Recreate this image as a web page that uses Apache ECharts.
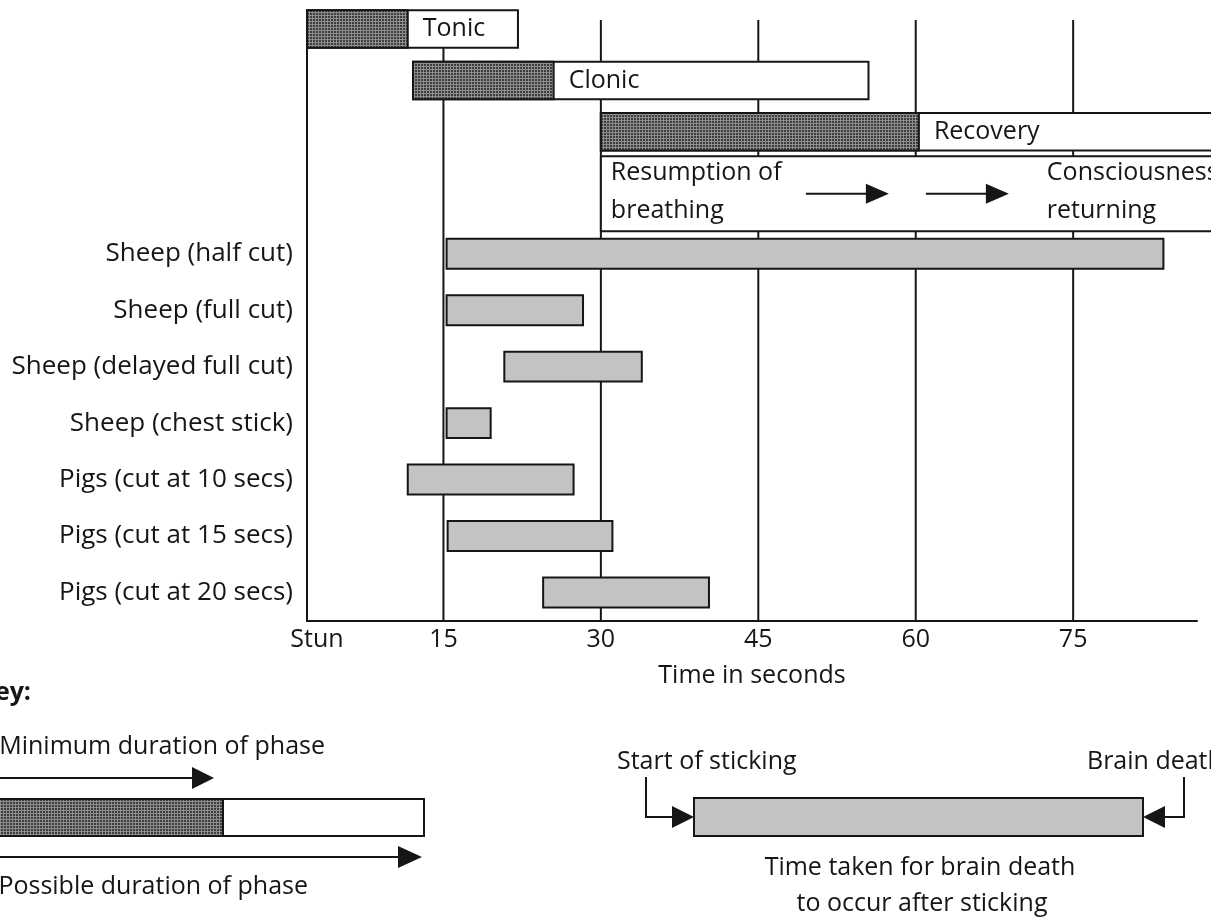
<!DOCTYPE html>
<html><head><meta charset="utf-8">
<script src="https://cdn.jsdelivr.net/npm/echarts@6/dist/echarts.min.js"></script>
<style>html,body{margin:0;padding:0;background:#fff}#c{width:1211px;height:920px}</style>
</head><body><div id="c"></div>
<script>
// ---------- data ----------
const tickValues = [2, 15, 30, 45, 60, 75];
const tickLabels = ['Stun', '15', '30', '45', '60', '75'];
const gridLineValues = [15, 30, 45, 60, 75];
const axisTitle = 'Time in seconds';

const phaseNames = ['Tonic', 'Clonic', 'Recovery'];
const phaseStart = [2, 12.1, 30];
const phaseMinEnd = [11.6, 25.5, 60.3];
const phaseMaxEnd = [22.1, 55.5, 92];

const noteStart = [30];
const noteEnd = [92];
const noteLeftLines = ['Resumption of', 'breathing'];
const noteRightLines = ['Consciousness', 'returning'];

const animals = ['Sheep (half cut)', 'Sheep (full cut)', 'Sheep (delayed full cut)', 'Sheep (chest stick)',
  'Pigs (cut at 10 secs)', 'Pigs (cut at 15 secs)', 'Pigs (cut at 20 secs)'];
const deathStart = [15.3, 15.3, 20.8, 15.3, 11.6, 15.4, 24.5];
const deathEnd = [83.6, 28.3, 33.9, 19.5, 27.4, 31.1, 40.3];

const keyTitle = 'Key:';
const keyMin = 'Minimum duration of phase';
const keyMax = 'Possible duration of phase';
const keyStart = 'Start of sticking';
const keyEnd = 'Brain death';
const keyCaption = ['Time taken for brain death', 'to occur after sticking'];

// ---------- style ----------
const INK = '#161616';
const FF = '"Open Sans", sans-serif';
const FS = 25;
const FONT = 'normal ' + FS + 'px "Open Sans", sans-serif';
const GRAY = '#c3c3c3';

const tile = document.createElement('canvas');
tile.width = 3; tile.height = 3;
const tctx = tile.getContext('2d');
tctx.fillStyle = '#3e3e3e'; tctx.fillRect(0, 0, 3, 3);
tctx.fillStyle = '#8e8e8e'; tctx.fillRect(0, 0, 3, 1); tctx.fillRect(0, 0, 1, 3);
const pattern = { image: tile, repeat: 'repeat' };

const X_MIN = 2, X_MAX = 86.8;
const LEFT = 307, RIGHT = 14;

function txt(text, x, y, align, extra) {
  return Object.assign({ text: text, x: x, y: y, align: align, textAlign: align,
    verticalAlign: 'middle', textVerticalAlign: 'middle', fill: INK, font: FONT }, extra || {});
}

function renderGridLine(params, api) {
  const p = api.coord([api.value(0), 0]);
  const cs = params.coordSys;
  return { type: 'line', shape: { x1: p[0], y1: cs.y, x2: p[0], y2: cs.y + cs.height },
    style: { stroke: INK, lineWidth: 2 } };
}

function renderPhase(params, api) {
  const row = api.value(0);
  const s = api.coord([api.value(1), row]);
  const m = api.coord([api.value(2), row]);
  const e = api.coord([api.value(3), row]);
  const band = api.size([0, 1])[1];
  const h = band * 0.73;
  const y = s[1] - h / 2;
  return { type: 'group', children: [
    { type: 'rect', shape: { x: s[0], y: y, width: e[0] - s[0], height: h }, style: { fill: '#fff', stroke: INK, lineWidth: 2 } },
    { type: 'rect', shape: { x: s[0], y: y, width: m[0] - s[0], height: h }, style: { fill: pattern, stroke: INK, lineWidth: 2 } },
    { type: 'text', style: txt(phaseNames[params.dataIndex], m[0] + 15, s[1], 'left') }
  ] };
}

function arrow(x1, x2, y) {
  return [
    { type: 'line', shape: { x1: x1, y1: y, x2: x2 - 20, y2: y }, style: { stroke: INK, lineWidth: 2 } },
    { type: 'polygon', shape: { points: [[x2 - 23, y - 10], [x2, y], [x2 - 23, y + 10]] }, style: { fill: INK } }
  ];
}

function renderNote(params, api) {
  const row = api.value(0);
  const s = api.coord([api.value(1), row]);
  const e = api.coord([api.value(2), row]);
  const band = api.size([0, 1])[1];
  const top = s[1] + band * 0.73 / 2 + band * 0.11;
  const h = band * 1.46;
  const mid = top + h / 2;
  const x0 = s[0];
  const ch = [
    { type: 'rect', shape: { x: x0, y: top, width: e[0] - x0, height: h }, style: { fill: '#fff', stroke: INK, lineWidth: 2 } },
    { type: 'text', style: txt(noteLeftLines[0], x0 + 10, top + 17, 'left') },
    { type: 'text', style: txt(noteLeftLines[1], x0 + 10, top + 55, 'left') },
    { type: 'text', style: txt(noteRightLines[0], x0 + 446, top + 17, 'left') },
    { type: 'text', style: txt(noteRightLines[1], x0 + 446, top + 55, 'left') }
  ].concat(arrow(x0 + 205, x0 + 288, mid), arrow(x0 + 325, x0 + 408, mid));
  return { type: 'group', children: ch };
}

function renderDeath(params, api) {
  const row = api.value(0);
  const s = api.coord([api.value(1), row]);
  const e = api.coord([api.value(2), row]);
  const h = api.size([0, 1])[1] * 0.53;
  return { type: 'rect', shape: { x: s[0], y: s[1] - h / 2, width: e[0] - s[0], height: h },
    style: { fill: GRAY, stroke: INK, lineWidth: 2 } };
}

const hiddenX = (gi) => ({ type: 'value', gridIndex: gi, min: X_MIN, max: X_MAX, show: false });

const keyGraphics = [
  { type: 'text', style: txt(keyTitle, 31, 693, 'right', { font: 'bold ' + FS + 'px "Open Sans", sans-serif' }) },
  { type: 'text', style: txt(keyMin, 325, 747, 'right') },
  { type: 'line', shape: { x1: -10, y1: 778, x2: 195, y2: 778 }, style: { stroke: INK, lineWidth: 2 } },
  { type: 'polygon', shape: { points: [[192, 767], [214, 778], [192, 789]] }, style: { fill: INK } },
  { type: 'rect', shape: { x: -10, y: 799, width: 434, height: 37 }, style: { fill: '#fff', stroke: INK, lineWidth: 2 } },
  { type: 'rect', shape: { x: -10, y: 799, width: 233, height: 37 }, style: { fill: pattern, stroke: INK, lineWidth: 2 } },
  { type: 'line', shape: { x1: -10, y1: 857, x2: 402, y2: 857 }, style: { stroke: INK, lineWidth: 2 } },
  { type: 'polygon', shape: { points: [[398, 846], [422, 857], [398, 868]] }, style: { fill: INK } },
  { type: 'text', style: txt(keyMax, 308, 887, 'right') },

  { type: 'text', style: txt(keyStart, 617, 762, 'left') },
  { type: 'polyline', shape: { points: [[646, 777], [646, 817], [674, 817]] }, style: { stroke: INK, lineWidth: 2, fill: null } },
  { type: 'polygon', shape: { points: [[672, 806], [694, 817], [672, 828]] }, style: { fill: INK } },
  { type: 'rect', shape: { x: 694, y: 798, width: 449, height: 38 }, style: { fill: GRAY, stroke: INK, lineWidth: 2 } },
  { type: 'polyline', shape: { points: [[1184, 777], [1184, 817], [1163, 817]] }, style: { stroke: INK, lineWidth: 2, fill: null } },
  { type: 'polygon', shape: { points: [[1165, 806], [1143, 817], [1165, 828]] }, style: { fill: INK } },
  { type: 'text', style: txt(keyEnd, 1087, 762, 'left') },
  { type: 'text', style: txt(keyCaption[0], 920, 868, 'center') },
  { type: 'text', style: txt(keyCaption[1], 922, 904, 'center') }
];

const chart = echarts.init(document.getElementById('c'), null, { renderer: 'canvas' });
chart.setOption({
  backgroundColor: '#fff',
  animation: false,
  textStyle: { fontFamily: FF, color: INK },
  grid: [
    { left: LEFT, right: RIGHT, top: 20, bottom: 299.3, outerBoundsMode: 'none', containLabel: false },
    { left: LEFT, right: RIGHT, top: 3.4, height: 154.05, outerBoundsMode: 'none', containLabel: false },
    { left: LEFT, right: RIGHT, top: 225.5, height: 395.2, outerBoundsMode: 'none', containLabel: false }
  ],
  xAxis: [
    {
      type: 'value', gridIndex: 0, min: X_MIN, max: X_MAX,
      axisLine: { show: true, onZero: false, lineStyle: { color: INK, width: 2 } },
      axisTick: { show: false },
      splitLine: { show: false },
      axisLabel: {
        customValues: tickValues, margin: 7, fontSize: FS, color: INK, fontFamily: FF,
        formatter: (v) => {
          const i = tickValues.indexOf(v);
          if (i === 0) return '{stun|' + tickLabels[0] + '}';
          return i >= 0 ? tickLabels[i] : '';
        },
        rich: { stun: { padding: [0, 0, 0, 20], fontSize: FS, color: INK, fontFamily: FF } }
      },
      name: axisTitle, nameLocation: 'middle', nameGap: 43,
      nameTextStyle: { fontSize: FS, color: INK, fontFamily: FF }
    },
    hiddenX(1), hiddenX(2)
  ],
  yAxis: [
    { type: 'value', gridIndex: 0, min: 0, max: 1,
      axisLine: { show: true, onZero: false, lineStyle: { color: INK, width: 2 } },
      axisTick: { show: false }, axisLabel: { show: false }, splitLine: { show: false } },
    { type: 'category', gridIndex: 1, inverse: true, data: phaseNames, show: false },
    { type: 'category', gridIndex: 2, inverse: true, data: animals,
      axisLine: { show: false }, axisTick: { show: false }, splitLine: { show: false },
      axisLabel: { margin: 14, fontSize: 26, color: INK, fontFamily: FF } }
  ],
  series: [
    { type: 'custom', xAxisIndex: 0, yAxisIndex: 0, z: 1, silent: true,
      data: gridLineValues.map(v => [v, 0]), encode: { x: 0, y: 1 }, renderItem: renderGridLine },
    { type: 'custom', xAxisIndex: 1, yAxisIndex: 1, z: 3, silent: true,
      data: phaseNames.map((n, i) => [i, phaseStart[i], phaseMinEnd[i], phaseMaxEnd[i]]),
      encode: { x: [1, 2, 3], y: 0 }, renderItem: renderPhase },
    { type: 'custom', xAxisIndex: 1, yAxisIndex: 1, z: 3, silent: true,
      data: noteStart.map((v, i) => [2, v, noteEnd[i]]),
      encode: { x: [1, 2], y: 0 }, renderItem: renderNote },
    { type: 'custom', xAxisIndex: 2, yAxisIndex: 2, z: 3, silent: true,
      data: animals.map((n, i) => [i, deathStart[i], deathEnd[i]]),
      encode: { x: [1, 2], y: 0 }, renderItem: renderDeath }
  ],
  graphic: { elements: keyGraphics }
});
</script></body></html>
